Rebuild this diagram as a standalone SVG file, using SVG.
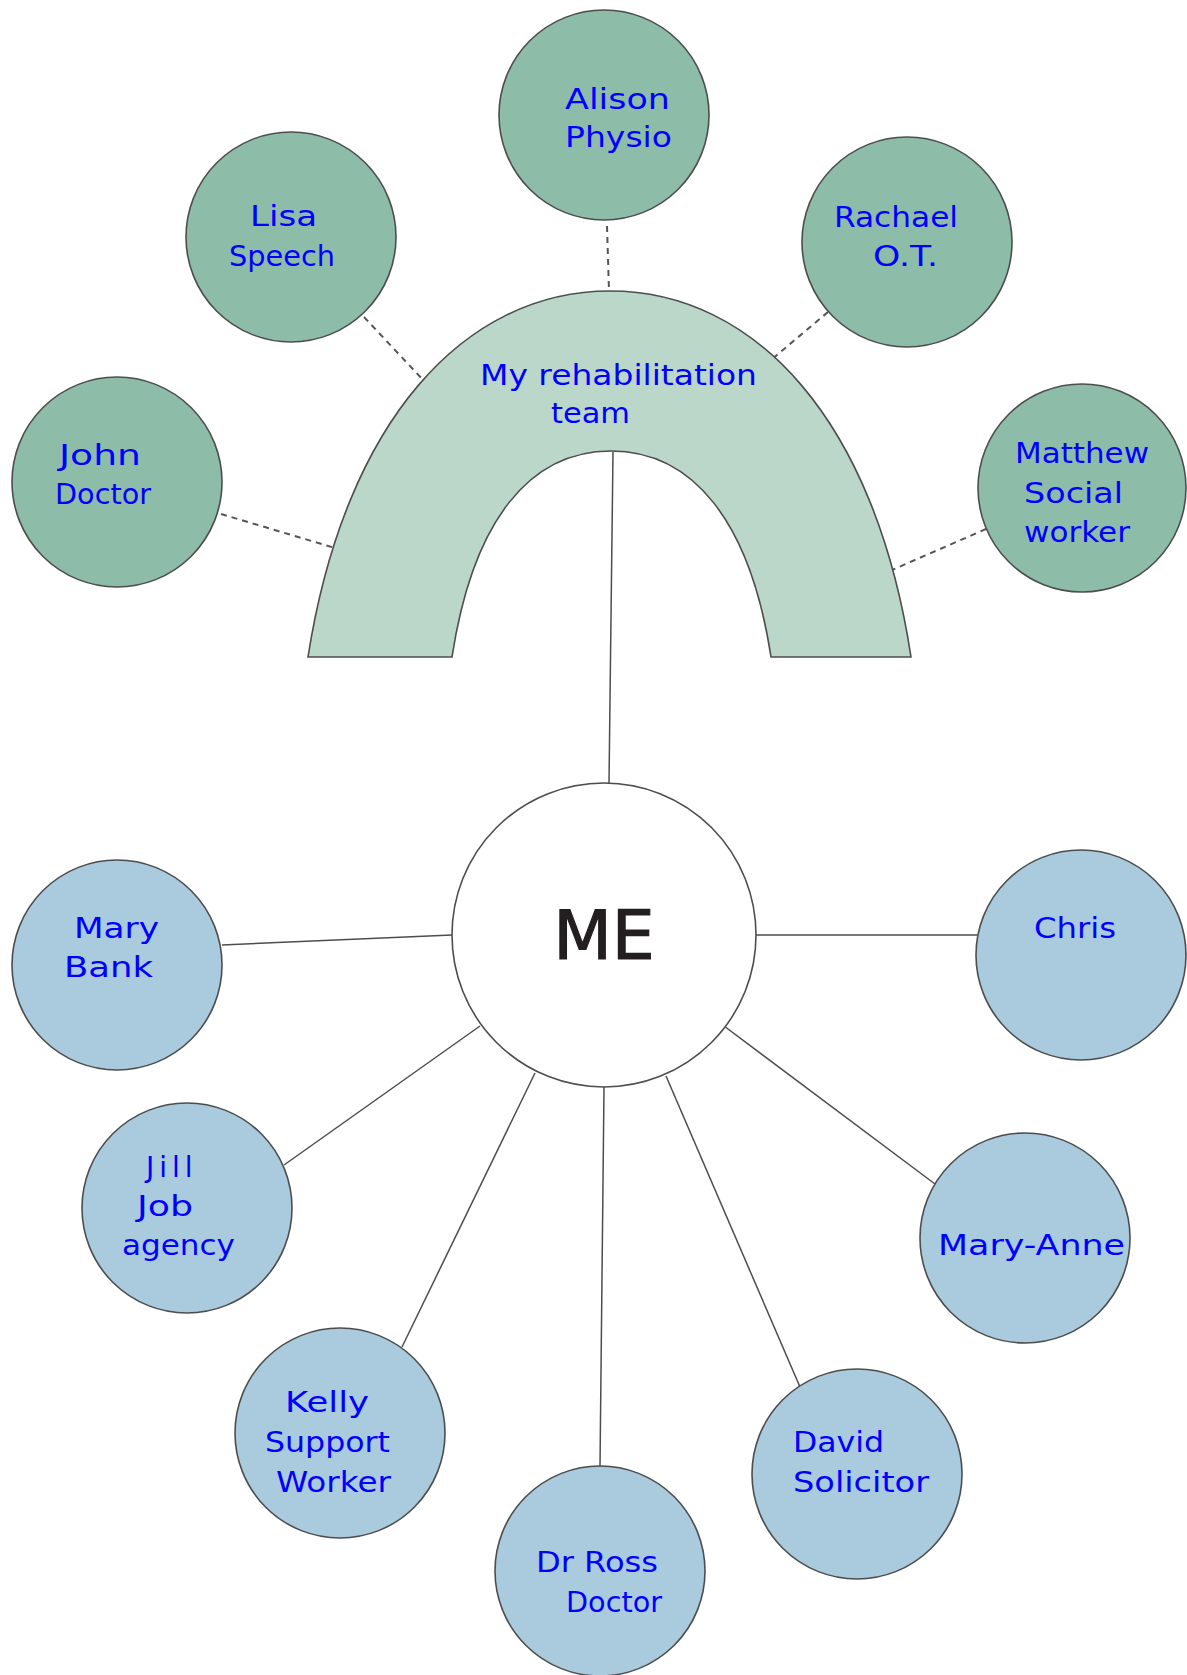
<svg xmlns="http://www.w3.org/2000/svg" width="1187" height="1675" viewBox="0 0 1187 1675">
<style>
.bg{fill:#ffffff}
.team{fill:#8dbca9;stroke:#4d4d4d;stroke-width:1.6}
.other{fill:#a9cbdd;stroke:#4d4d4d;stroke-width:1.6}
.me{fill:#ffffff;stroke:#4d4d4d;stroke-width:1.6}
.arch{fill:#bad7ca;stroke:#4d4d4d;stroke-width:1.6}
.solid{stroke:#4d4d4d;stroke-width:1.5;fill:none}
.dash{stroke:#555555;stroke-width:2;stroke-dasharray:6 5;fill:none}
.hand{font-family:"DejaVu Sans","Liberation Sans",sans-serif;font-size:28px;fill:#0000ff}
.metext{font-family:"DejaVu Sans","Liberation Sans",sans-serif;font-size:68px;fill:#231f20;stroke:#231f20;stroke-width:1.2;text-anchor:middle}
</style>
<rect class="bg" x="0" y="0" width="1187" height="1675"/>
<g id="connectors">
<line class="dash" x1="607" y1="226" x2="609" y2="291"/>
<line class="dash" x1="364" y1="317" x2="425" y2="382"/>
<line class="dash" x1="828" y1="312" x2="771" y2="360"/>
<line class="dash" x1="221" y1="514" x2="335" y2="548"/>
<line class="dash" x1="986" y1="529" x2="892" y2="570"/>
<line class="solid" x1="613" y1="452" x2="609" y2="783"/>
<line class="solid" x1="222" y1="945" x2="452" y2="935"/>
<line class="solid" x1="755" y1="935" x2="977" y2="935"/>
<line class="solid" x1="284" y1="1165" x2="480" y2="1026"/>
<line class="solid" x1="935" y1="1184" x2="724" y2="1026"/>
<line class="solid" x1="402" y1="1347" x2="535" y2="1073"/>
<line class="solid" x1="600" y1="1467" x2="604" y2="1087"/>
<line class="solid" x1="800" y1="1387" x2="666" y2="1076"/>
</g>
<g id="arch">
<path class="arch" d="M308,657 C 345,420 465,291 610,291 C 755,291 875,420 911,657 L 771,657 C 750,520 692,451 611,451 C 530,451 473,520 452,657 Z"/>
<text class="hand" x="480" y="385" textLength="277" lengthAdjust="spacingAndGlyphs">My rehabilitation</text>
<text class="hand" x="551" y="423" textLength="79" lengthAdjust="spacingAndGlyphs">team</text>
</g>
<g id="alison">
<circle class="team" cx="604" cy="115" r="105"/>
<text class="hand" x="565" y="109" textLength="105" lengthAdjust="spacingAndGlyphs">Alison</text>
<text class="hand" x="565" y="147" textLength="107" lengthAdjust="spacingAndGlyphs">Physio</text>
</g>
<g id="lisa">
<circle class="team" cx="291" cy="237" r="105"/>
<text class="hand" x="250" y="226" textLength="67" lengthAdjust="spacingAndGlyphs">Lisa</text>
<text class="hand" x="229" y="266" textLength="106" lengthAdjust="spacingAndGlyphs">Speech</text>
</g>
<g id="rachael">
<circle class="team" cx="907" cy="242" r="105"/>
<text class="hand" x="834" y="227" textLength="124" lengthAdjust="spacingAndGlyphs">Rachael</text>
<text class="hand" x="873" y="266" textLength="65" lengthAdjust="spacingAndGlyphs">O.T.</text>
</g>
<g id="john">
<circle class="team" cx="117" cy="482" r="105"/>
<text class="hand" x="59" y="465" textLength="82" lengthAdjust="spacingAndGlyphs">John</text>
<text class="hand" x="55" y="504" textLength="96" lengthAdjust="spacingAndGlyphs">Doctor</text>
</g>
<g id="matthew">
<circle class="team" cx="1082" cy="488" r="104"/>
<text class="hand" x="1015" y="463" textLength="134" lengthAdjust="spacingAndGlyphs">Matthew</text>
<text class="hand" x="1024" y="503" textLength="99" lengthAdjust="spacingAndGlyphs">Social</text>
<text class="hand" x="1024" y="542" textLength="106" lengthAdjust="spacingAndGlyphs">worker</text>
</g>
<g id="me">
<circle class="me" cx="604" cy="935" r="152"/>
<text class="metext" x="604" y="959">ME</text>
</g>
<g id="mary">
<circle class="other" cx="117" cy="965" r="105"/>
<text class="hand" x="74" y="938" textLength="85" lengthAdjust="spacingAndGlyphs">Mary</text>
<text class="hand" x="64" y="977" textLength="89" lengthAdjust="spacingAndGlyphs">Bank</text>
</g>
<g id="chris">
<circle class="other" cx="1081" cy="955" r="105"/>
<text class="hand" x="1034" y="938" textLength="82" lengthAdjust="spacingAndGlyphs">Chris</text>
</g>
<g id="jill">
<circle class="other" cx="187" cy="1208" r="105"/>
<text class="hand" x="146" y="1177" letter-spacing="5">Jill</text>
<text class="hand" x="137" y="1216" textLength="56" lengthAdjust="spacingAndGlyphs">Job</text>
<text class="hand" x="122" y="1255" textLength="113" lengthAdjust="spacingAndGlyphs">agency</text>
</g>
<g id="maryanne">
<circle class="other" cx="1025" cy="1238" r="105"/>
<text class="hand" x="938" y="1255" textLength="187" lengthAdjust="spacingAndGlyphs">Mary-Anne</text>
</g>
<g id="kelly">
<circle class="other" cx="340" cy="1433" r="105"/>
<text class="hand" x="285" y="1412" textLength="84" lengthAdjust="spacingAndGlyphs">Kelly</text>
<text class="hand" x="265" y="1452" textLength="125" lengthAdjust="spacingAndGlyphs">Support</text>
<text class="hand" x="276" y="1492" textLength="115" lengthAdjust="spacingAndGlyphs">Worker</text>
</g>
<g id="david">
<circle class="other" cx="857" cy="1474" r="105"/>
<text class="hand" x="793" y="1452" textLength="91" lengthAdjust="spacingAndGlyphs">David</text>
<text class="hand" x="793" y="1492" textLength="136" lengthAdjust="spacingAndGlyphs">Solicitor</text>
</g>
<g id="drross">
<circle class="other" cx="600" cy="1571" r="105"/>
<text class="hand" x="536" y="1572" textLength="122" lengthAdjust="spacingAndGlyphs">Dr Ross</text>
<text class="hand" x="566" y="1612" textLength="96" lengthAdjust="spacingAndGlyphs">Doctor</text>
</g>
</svg>
